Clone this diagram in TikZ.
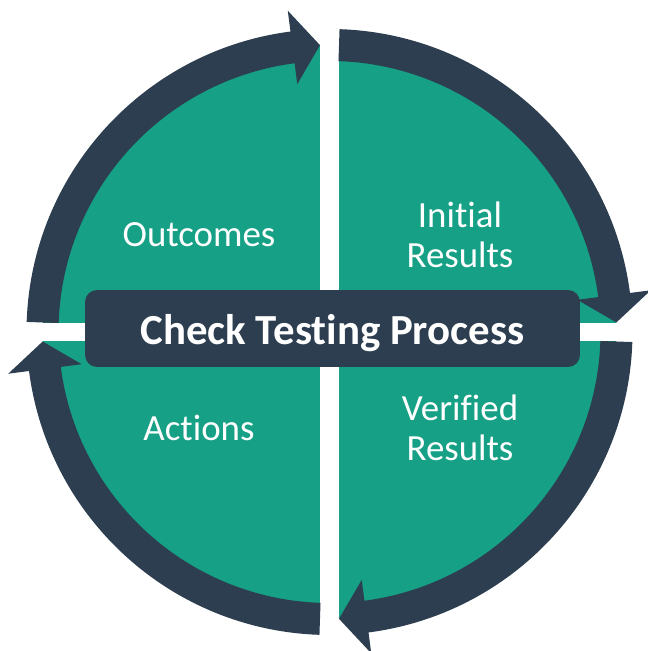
\documentclass[tikz,border=0pt]{standalone}
\usepackage{fontspec}
\setmainfont{Carlito}[Ligatures={NoCommon}]
\definecolor{cyclegreen}{HTML}{16A085}
\definecolor{cyclenavy}{HTML}{2C3E50}
\tikzset{
  ringarrow/.style={fill=cyclenavy},
  stage/.style={text=white, align=center, font=\fontsize{21}{22.7}\selectfont},
  processbox/.style={fill=cyclenavy, text=white, rounded corners=0.24cm,
    minimum width=9.9cm, minimum height=1.54cm, text height=18.6pt, text depth=0pt,
    font=\bfseries\fontsize{24.4}{28}\selectfont}
}
\begin{document}
\begin{tikzpicture}[x=0.02cm, y=0.02cm]
  \useasboundingbox (-329.5,-319) rectangle (317.5,332);
  \fill[cyclegreen] (0,0) circle[radius=287];
  \fill[white] (-9.5,-330) rectangle (9.5,340);
  \fill[white] (-335,-9) rectangle (335,9);
  % top left
  \fill[ringarrow] (178.1:303) arc[start angle=178.1, end angle=97.4, radius=303]
    -- (97.4:324) -- (91.9:287) -- (97.4:250) -- (97.4:271)
    arc[start angle=97.4, end angle=178.1, radius=271] -- cycle;
  % top right
  \fill[ringarrow] (88.1:303) arc[start angle=88.1, end angle=7.4, radius=303]
    -- (7.4:324) -- (1.9:287) -- (7.4:250) -- (7.4:271)
    arc[start angle=7.4, end angle=88.1, radius=271] -- cycle;
  % bottom right
  \fill[ringarrow] (-1.9:303) arc[start angle=-1.9, end angle=-82.6, radius=303]
    -- (-82.6:324) -- (-88.1:287) -- (-82.6:250) -- (-82.6:271)
    arc[start angle=-82.6, end angle=-1.9, radius=271] -- cycle;
  % bottom left
  \fill[ringarrow] (-91.9:303) arc[start angle=-91.9, end angle=-172.6, radius=303]
    -- (-172.6:324) -- (-178.1:287) -- (-172.6:250) -- (-172.6:271)
    arc[start angle=-172.6, end angle=-91.9, radius=271] -- cycle;
  \node[processbox] (process) at (3,3.5) {Check Testing Process};
  \node[stage] (outcomes) at (-130.5,97) {Outcomes};
  \node[stage] (initial) at (130.5,97) {Initial\\Results};
  \node[stage] (actions) at (-130.5,-96) {Actions};
  \node[stage] (verified) at (130.5,-96) {Verified\\Results};
\end{tikzpicture}
\end{document}
